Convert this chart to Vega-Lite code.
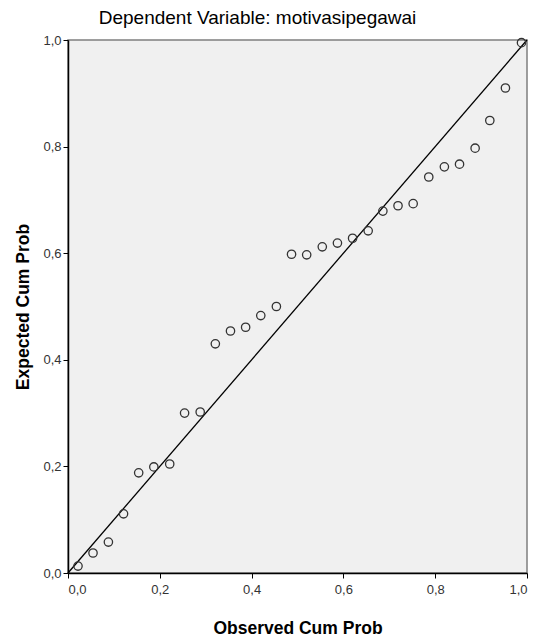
{
  "$schema": "https://vega.github.io/schema/vega-lite/v6.json",
  "width": 459,
  "height": 533,
  "autosize": {"type": "none"},
  "padding": {"left": 68, "top": 40, "right": 15, "bottom": 68},
  "background": "white",
  "title": {
    "text": "Dependent Variable: motivasipegawai",
    "font": "Liberation Sans",
    "fontSize": 19,
    "fontWeight": "normal",
    "color": "#000000",
    "anchor": "middle",
    "dx": -40,
    "offset": 6
  },
  "config": {
    "view": {"fill": "#f0f0f0", "stroke": "#7f7f7f", "strokeWidth": 1.5},
    "axis": {
      "grid": false,
      "labelFont": "Liberation Sans",
      "labelFontSize": 13,
      "labelColor": "#333333",
      "titleFont": "Liberation Sans",
      "titleFontSize": 17.5,
      "titleFontWeight": "bold",
      "titleColor": "#000000",
      "domainColor": "#000000",
      "domainWidth": 1.5,
      "tickColor": "#000000",
      "tickSize": 5,
      "tickWidth": 1
    }
  },
  "datasets": {
    "pts": [
      {"obs": 0.0218, "exp": 0.013},
      {"obs": 0.0545, "exp": 0.0375},
      {"obs": 0.088, "exp": 0.058},
      {"obs": 0.121, "exp": 0.111},
      {"obs": 0.154, "exp": 0.188},
      {"obs": 0.187, "exp": 0.199},
      {"obs": 0.2216, "exp": 0.2045},
      {"obs": 0.254, "exp": 0.3},
      {"obs": 0.288, "exp": 0.302},
      {"obs": 0.321, "exp": 0.43},
      {"obs": 0.354, "exp": 0.454},
      {"obs": 0.387, "exp": 0.461},
      {"obs": 0.42, "exp": 0.483},
      {"obs": 0.454, "exp": 0.5},
      {"obs": 0.487, "exp": 0.598},
      {"obs": 0.52, "exp": 0.597},
      {"obs": 0.554, "exp": 0.612},
      {"obs": 0.587, "exp": 0.619},
      {"obs": 0.62, "exp": 0.628},
      {"obs": 0.654, "exp": 0.642},
      {"obs": 0.686, "exp": 0.679},
      {"obs": 0.719, "exp": 0.689},
      {"obs": 0.752, "exp": 0.693},
      {"obs": 0.786, "exp": 0.743},
      {"obs": 0.82, "exp": 0.762},
      {"obs": 0.853, "exp": 0.767},
      {"obs": 0.887, "exp": 0.797},
      {"obs": 0.919, "exp": 0.849},
      {"obs": 0.953, "exp": 0.91},
      {"obs": 0.988, "exp": 0.995}
    ],
    "diag": [{"x": 0, "y": 0, "x2": 1, "y2": 1}]
  },
  "layer": [
    {
      "data": {"name": "diag"},
      "mark": {"type": "rule", "color": "#000000", "strokeWidth": 1.3},
      "encoding": {
        "x": {"field": "x", "type": "quantitative", "scale": {"domain": [0, 1], "nice": false}},
        "y": {"field": "y", "type": "quantitative", "scale": {"domain": [0, 1], "nice": false}},
        "x2": {"field": "x2"},
        "y2": {"field": "y2"}
      }
    },
    {
      "data": {"name": "pts"},
      "mark": {"type": "point", "shape": "circle", "filled": false, "stroke": "#333333", "strokeWidth": 1.3, "size": 70, "opacity": 1},
      "encoding": {
        "x": {
          "field": "obs",
          "type": "quantitative",
          "scale": {"domain": [0, 1], "nice": false, "zero": true},
          "axis": {
            "values": [0, 0.2, 0.4, 0.6, 0.8, 1],
            "labelExpr": "replace(format(datum.value, '.1f'), '.', ',')",
            "title": "Observed Cum Prob",
            "titlePadding": 23,
            "labelPadding": 5
          }
        },
        "y": {
          "field": "exp",
          "type": "quantitative",
          "scale": {"domain": [0, 1], "nice": false, "zero": true},
          "axis": {
            "values": [0, 0.2, 0.4, 0.6, 0.8, 1],
            "labelExpr": "replace(format(datum.value, '.1f'), '.', ',')",
            "title": "Expected Cum Prob",
            "titlePadding": 10,
            "labelPadding": 2
          }
        }
      }
    }
  ]
}
